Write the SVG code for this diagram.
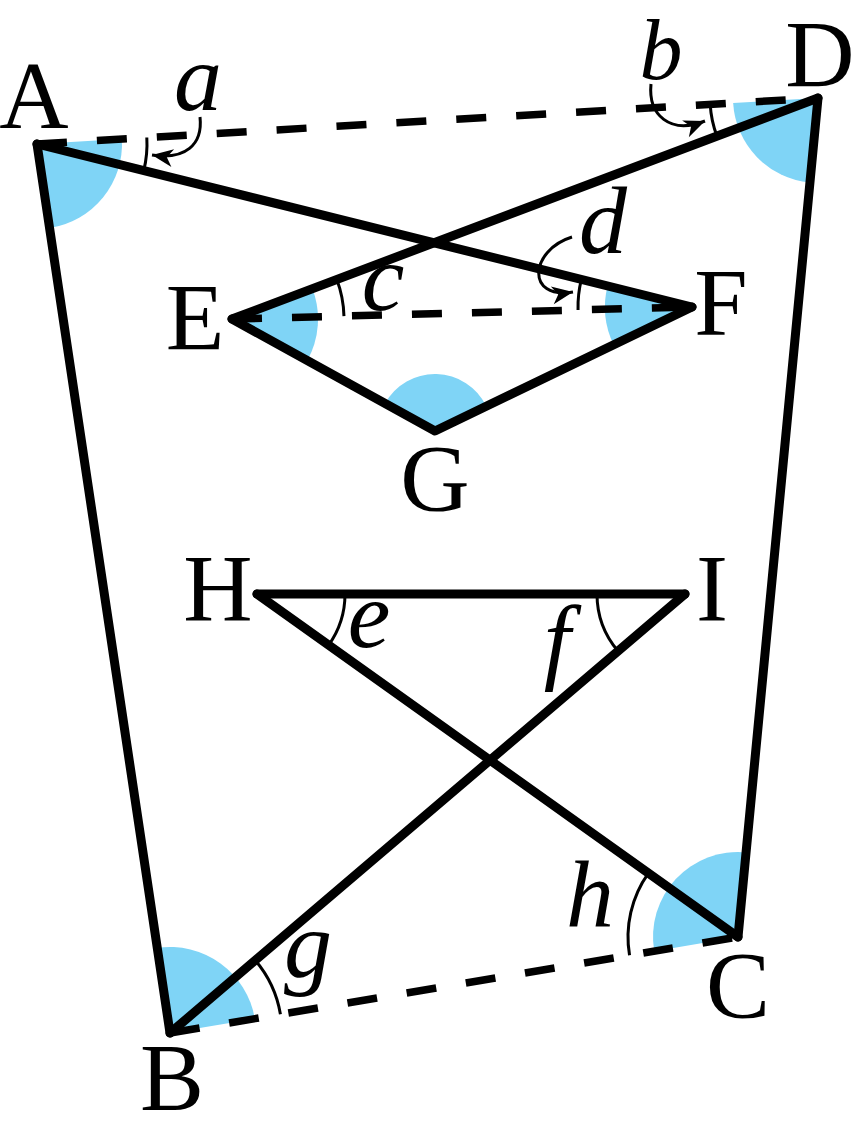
<svg xmlns="http://www.w3.org/2000/svg" width="854" height="1139" viewBox="0 0 854 1139">
<style>
.sector{fill:#7fd4f6;stroke:none}
.solid{fill:none;stroke:#000;stroke-width:9;stroke-linecap:round;stroke-linejoin:round}
.dash{fill:none;stroke:#000;stroke-width:7.5;stroke-dasharray:30 30}
.arc{fill:none;stroke:#000;stroke-width:3}
.pt{font-family:"Liberation Serif","DejaVu Serif",serif;font-size:96px;fill:#000;text-anchor:middle}
.var{font-family:"Liberation Serif","DejaVu Serif",serif;font-size:96px;font-style:italic;fill:#000;text-anchor:middle}
</style>
<defs>
<marker id="stealth" viewBox="-23 -10 24 20" markerWidth="24" markerHeight="20" refX="0" refY="0" orient="auto" markerUnits="userSpaceOnUse">
<path d="M0,0 L-21,-9 L-15,0 L-21,9 Z" fill="#000"/>
</marker>
</defs>
<rect width="854" height="1139" fill="#fff"/>
<g id="sectors">
<path class="sector" d="M37,144 L121.85,139 A85,85 0 0,1 49.58,228.06 Z"/>
<path class="sector" d="M818,98 L809.93,182.62 A85,85 0 0,1 733.15,103 Z"/>
<path class="sector" d="M232,319 L312.47,288.66 A86,86 0 0,1 307.29,360.55 Z"/>
<path class="sector" d="M692,307 L613.65,344.81 A87,87 0 0,1 607.57,285.99 Z"/>
<path class="sector" d="M435,431 L385.1,403.46 A57,57 0 0,1 486.33,406.23 Z"/>
<path class="sector" d="M170,1033 L157.27,947.95 A86,86 0 0,1 254.8,1018.67 Z"/>
<path class="sector" d="M738,937 L654.19,951.16 A85,85 0 0,1 746.07,852.38 Z"/>
</g>
<g id="connectors">
<line class="dash" x1="37" y1="144" x2="818" y2="98"/>
<line class="dash" x1="232" y1="319" x2="692" y2="307"/>
<line class="dash" x1="170" y1="1033" x2="738" y2="937"/>
<line class="solid" x1="37" y1="144" x2="170" y2="1033"/>
<line class="solid" x1="818" y1="98" x2="738" y2="937"/>
<line class="solid" x1="37" y1="144" x2="692" y2="307"/>
<line class="solid" x1="818" y1="98" x2="232" y2="319"/>
<polyline class="solid" points="232,319 435,431 692,307"/>
<line class="solid" x1="257" y1="594" x2="685" y2="594"/>
<line class="solid" x1="257" y1="594" x2="738" y2="937"/>
<line class="solid" x1="685" y1="594" x2="170" y2="1033"/>
</g>
<g id="angle-marks">
<path class="arc" d="M146.81,137.53 A110,110 0 0,1 143.75,170.56"/>
<path class="arc" d="M716.94,136.11 A108,108 0 0,1 710.19,104.35"/>
<path class="arc" d="M336.8,279.48 A112,112 0 0,1 343.96,316.09"/>
<path class="arc" d="M578.04,309.96 A114,114 0 0,1 581.37,279.47"/>
<path class="arc" d="M345,594 A88,88 0 0,1 328.65,645.09"/>
<path class="arc" d="M618.03,651.09 A88,88 0 0,1 597,594"/>
<path class="arc" d="M255.23,960.34 A112,112 0 0,1 280.43,1014.34"/>
<path class="arc" d="M629.54,955.33 A110,110 0 0,1 648.44,873.14"/>
<path class="arc" d="M200,117 C203,145 185,160 152,155" marker-end="url(#stealth)"/>
<path class="arc" d="M651,84 C648,115 670,135 705,121" marker-end="url(#stealth)"/>
<path class="arc" d="M572,237 C530,250 525,300 573,292" marker-end="url(#stealth)"/>
</g>
<g id="node-A"><text class="pt" x="34" y="128">A</text></g>
<g id="node-B"><text class="pt" x="172" y="1110">B</text></g>
<g id="node-C"><text class="pt" x="738" y="1018">C</text></g>
<g id="node-D"><text class="pt" x="820" y="87">D</text></g>
<g id="node-E"><text class="pt" x="195" y="350">E</text></g>
<g id="node-F"><text class="pt" x="721" y="335">F</text></g>
<g id="node-G"><text class="pt" x="435" y="511">G</text></g>
<g id="node-H"><text class="pt" x="218" y="621">H</text></g>
<g id="node-I"><text class="pt" x="712" y="621">I</text></g>
<g id="labels">
<text class="var" x="198" y="110">a</text>
<text class="var" x="661" y="79" style="font-size:86px">b</text>
<text class="var" x="383" y="310">c</text>
<text class="var" x="603" y="253">d</text>
<text class="var" x="369" y="647">e</text>
<text class="var" x="557" y="672">f</text>
<text class="var" x="308" y="977">g</text>
<text class="var" x="590" y="927">h</text>
</g>
</svg>
